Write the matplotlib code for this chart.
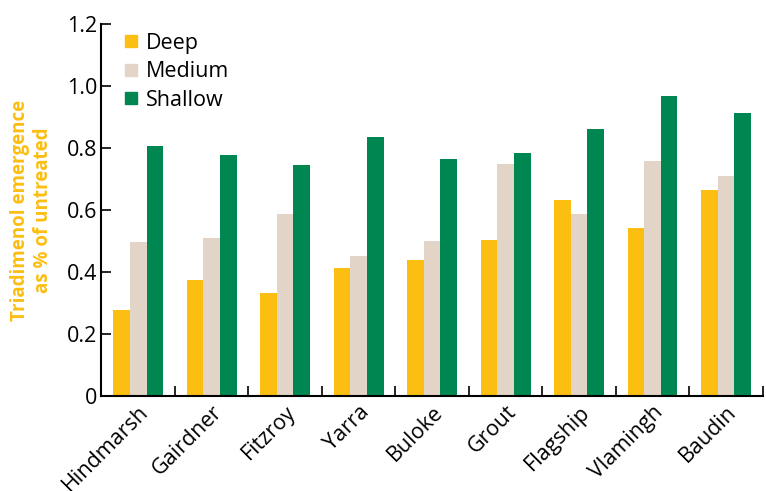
import numpy as np
import matplotlib
matplotlib.use('Agg')
import matplotlib.pyplot as plt
from matplotlib.lines import Line2D

# dados
cultivares = ['Hindmarsh', 'Gairdner', 'Fitzroy', 'Yarra', 'Buloke',
              'Grout', 'Flagship', 'Vlamingh', 'Baudin']
deep = [0.278, 0.375, 0.333, 0.414, 0.440, 0.504, 0.633, 0.543, 0.666]
medium = [0.498, 0.511, 0.588, 0.453, 0.501, 0.749, 0.588, 0.759, 0.711]
shallow = [0.807, 0.778, 0.746, 0.837, 0.765, 0.785, 0.862, 0.969, 0.914]

series = [('Deep', deep, '#FDBE12'),
          ('Medium', medium, '#E2D4C6'),
          ('Shallow', shallow, '#008751')]

plt.rcParams['font.family'] = ['Open Sans', 'DejaVu Sans']
fs = 15.5

fig = plt.figure(figsize=(7.66, 4.91), dpi=100)
ax = fig.add_axes([0.1325, 0.193, 0.8635, 0.7575])

x = np.arange(len(cultivares))
w = 0.225
for i, (nome, vals, cor) in enumerate(series):
    ax.bar(x + (i - 1) * w, vals, w, color=cor, label=nome)

ax.set_xlim(-0.5, len(cultivares) - 0.5)
ax.set_ylim(0, 1.2)
ax.set_yticks([0, 0.2, 0.4, 0.6, 0.8, 1.0, 1.2])
ax.set_yticklabels(['0', '0.2', '0.4', '0.6', '0.8', '1.0', '1.2'], fontsize=fs)

# ticks entre os grupos no eixo x
ax.set_xticks(x + 0.5)
ax.set_xticklabels([])
ax.set_xticks(x, minor=True)
ax.set_xticklabels(cultivares, minor=True, rotation=45, ha='right',
                   rotation_mode='anchor', fontsize=fs)
ax.tick_params(axis='x', which='minor', length=0, pad=4)
ax.tick_params(axis='x', which='major', direction='in', length=7, width=1.2)
ax.tick_params(axis='y', direction='in', length=7, width=1.2, pad=3)

for s in ['top', 'right']:
    ax.spines[s].set_visible(False)
for s in ['left', 'bottom']:
    ax.spines[s].set_linewidth(1.5)

ax.set_ylabel('Triadimenol emergence\nas % of untreated', color='#FDBE12',
              fontsize=13.5, fontweight='bold', labelpad=10, linespacing=1.2)

handles = [Line2D([], [], marker='s', linestyle='', markersize=9,
                  markerfacecolor=c, markeredgecolor=c) for _, _, c in series]
ax.legend(handles, [n for n, _, _ in series], loc='upper left',
          bbox_to_anchor=(0.0, 1.03), frameon=False, fontsize=fs,
          handletextpad=0.25, labelspacing=0.36, handlelength=0.9)

fig.savefig('out.png', dpi=100)
